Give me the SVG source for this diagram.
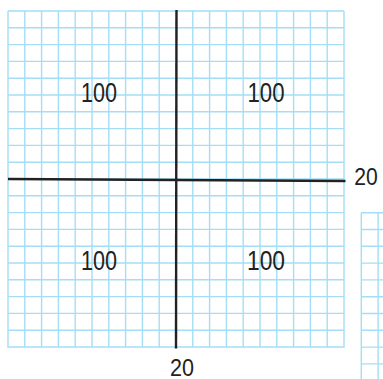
<svg xmlns="http://www.w3.org/2000/svg" width="383" height="379" viewBox="0 0 383 379">
<style>
.grid{stroke:#a3def6;stroke-width:1.4;fill:none}
.axis{stroke:#222;stroke-width:2.4;fill:none;stroke-linecap:butt}
.lbl{font-family:"Liberation Sans",Arial,sans-serif;fill:#222;text-anchor:middle}
.big{font-size:27px}
.small{font-size:24px}
</style>
<rect width="383" height="379" fill="#fff"/>
<g id="grid">
<path class="grid" d="M8,11V347.7M24.8,11V347.7M41.6,11V347.7M58.4,11V347.7M75.2,11V347.7M92,11V347.7M108.8,11V347.7M125.6,11V347.7M142.4,11V347.7M159.2,11V347.7M176,11V347.7M192.8,11V347.7M209.6,11V347.7M226.4,11V347.7M243.2,11V347.7M260,11V347.7M276.8,11V347.7M293.6,11V347.7M310.4,11V347.7M327.2,11V347.7M344,11V347.7
M8,11H344M8,27.8H344M8,44.6H344M8,61.4H344M8,78.2H344M8,95H344M8,111.8H344M8,128.6H344M8,145.4H344M8,162.2H344M8,179H344M8,195.8H344M8,212.6H344M8,229.4H344M8,246.2H344M8,263H344M8,279.8H344M8,296.6H344M8,313.4H344M8,330.2H344M8,347H344"/>
</g>
<g id="side-grid">
<path class="grid" d="M361.3,212.7V379M378.1,212.7V379M361.3,212.7H383M361.3,229.5H383M361.3,246.3H383M361.3,263.1H383M361.3,279.9H383M361.3,296.7H383M361.3,313.5H383M361.3,330.3H383M361.3,347.1H383M361.3,363.9H383"/>
</g>
<g id="axes">
<path class="axis" d="M176.5,10L176,348.5"/>
<path class="axis" d="M8,179L345.5,181"/>
</g>
<g id="labels">
<text class="lbl big" x="99" y="102" textLength="36" lengthAdjust="spacingAndGlyphs">100</text>
<text class="lbl big" x="266" y="102" textLength="37" lengthAdjust="spacingAndGlyphs">100</text>
<text class="lbl big" x="99" y="270" textLength="36" lengthAdjust="spacingAndGlyphs">100</text>
<text class="lbl big" x="266" y="269.5" textLength="38" lengthAdjust="spacingAndGlyphs">100</text>
<text class="lbl small" x="366" y="184.5" textLength="23.5" lengthAdjust="spacingAndGlyphs">20</text>
<text class="lbl small" x="182" y="375.5" textLength="24" lengthAdjust="spacingAndGlyphs">20</text>
</g>
</svg>
